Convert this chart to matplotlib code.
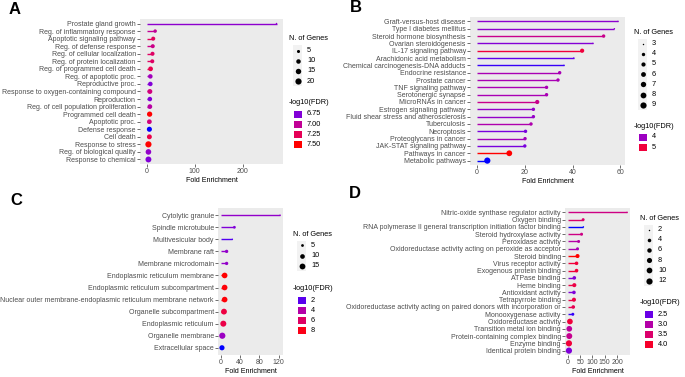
import numpy as np
import matplotlib
matplotlib.use("Agg")
import matplotlib.pyplot as plt
from matplotlib.colors import ListedColormap, Normalize
from matplotlib.lines import Line2D
from matplotlib.patches import Rectangle

W, H = 685, 377

# ---- panel A: biological process
a_terms = ["Prostate gland growth", "Reg. of inflammatory response", "Apoptotic signaling pathway",
           "Reg. of defense response", "Reg. of cellular localization", "Reg. of protein localization",
           "Reg. of programmed cell death", "Reg. of apoptotic proc.", "Reproductive proc.",
           "Response to oxygen-containing compound", "Reproduction", "Reg. of cell population proliferation",
           "Programmed cell death", "Apoptotic proc.", "Defense response", "Cell death",
           "Response to stress", "Reg. of biological quality", "Response to chemical"]
a_fold = [270, 18, 14, 13, 12.5, 12, 8.5, 8, 8, 7, 7, 7, 6.5, 6, 6, 6, 4, 4, 4]
a_genes = [3, 6, 8, 8, 8, 8, 11, 10, 10, 12, 10, 11, 14, 11, 13, 12, 20, 16, 18]
a_fdr = [6.78, 7.0, 7.22, 7.05, 7.2, 7.2, 7.28, 6.85, 6.75, 7.1, 6.75, 6.95, 7.5, 7.1, 6.6, 7.3, 7.5, 6.8, 6.75]
a_xticks = [0, 100, 200]
a_size_breaks = [5, 10, 15, 20]
a_color_breaks = ["6.75", "7.00", "7.25", "7.50"]

# ---- panel B: KEGG
b_terms = ["Graft-versus-host disease", "Type I diabetes mellitus", "Steroid hormone biosynthesis",
           "Ovarian steroidogenesis", "IL-17 signaling pathway", "Arachidonic acid metabolism",
           "Chemical carcinogenesis-DNA adducts", "Endocrine resistance", "Prostate cancer",
           "TNF signaling pathway", "Serotonergic synapse", "MicroRNAs in cancer",
           "Estrogen signaling pathway", "Fluid shear stress and atherosclerosis", "Tuberculosis",
           "Necroptosis", "Proteoglycans in cancer", "JAK-STAT signaling pathway",
           "Pathways in cancer", "Metabolic pathways"]
b_fold = [59, 57.5, 53, 48.5, 44, 40.5, 36.4, 34.6, 33.9, 29.1, 29.1, 25.2, 23.6, 23.6, 22.6, 20.3, 20.1, 20, 13.5, 4.3]
b_genes = [3, 3, 4, 3, 5, 3, 3, 4, 4, 4, 4, 5, 4, 4, 4, 4, 4, 4, 8, 9]
b_fdr = [3.9, 3.9, 4.4, 3.85, 5.0, 3.7, 3.6, 4.1, 4.1, 4.1, 4.1, 4.4, 3.95, 3.95, 4.15, 3.8, 4.05, 3.8, 5.3, 3.55]
b_xticks = [0, 20, 40, 60]
b_size_breaks = [3, 4, 5, 6, 7, 8, 9]
b_color_breaks = ["4", "5"]

# ---- panel C: cellular component
c_terms = ["Cytolytic granule", "Spindle microtubule", "Multivesicular body", "Membrane raft",
           "Membrane microdomain", "Endoplasmic reticulum membrane", "Endoplasmic reticulum subcompartment",
           "Nuclear outer membrane-endoplasmic reticulum membrane network", "Organelle subcompartment",
           "Endoplasmic reticulum", "Organelle membrane", "Extracellular space"]
c_fold = [123, 28, 23.7, 11.8, 11.8, 7.7, 7.7, 7.7, 6.3, 4.9, 2.8, 2.1]
c_genes = [4, 5, 4, 6, 6, 14, 14, 14, 15, 16, 17, 12]
c_fdr = [3.0, 2.6, 1.9, 3.0, 3.0, 8.3, 8.2, 8.2, 7.0, 6.8, 3.2, 1.5]
c_xticks = [0, 40, 80, 120]
c_size_breaks = [5, 10, 15]
c_color_breaks = ["2", "4", "6", "8"]

# ---- panel D: molecular function
d_terms = ["Nitric-oxide synthase regulator activity", "Oxygen binding",
           "RNA polymerase II general transcription initiation factor binding", "Steroid hydroxylase activity",
           "Peroxidase activity", "Oxidoreductase activity acting on peroxide as acceptor", "Steroid binding",
           "Virus receptor activity", "Exogenous protein binding", "ATPase binding", "Heme binding",
           "Antioxidant activity", "Tetrapyrrole binding",
           "Oxidoreductase activity acting on paired donors with incorporation or",
           "Monooxygenase activity", "Oxidoreductase activity", "Transition metal ion binding",
           "Protein-containing complex binding", "Enzyme binding", "Identical protein binding"]
d_fold = [241, 62, 63, 55.5, 43.5, 39, 39, 35, 35, 26, 26, 24.5, 24.5, 21.7, 20, 8, 5.4, 5.4, 4, 4]
d_genes = [2, 3, 2, 3, 3, 3, 5, 4, 4, 4, 5, 4, 5, 4, 3, 10, 10, 11, 12, 12]
d_fdr = [3.3, 3.5, 2.3, 3.3, 3.0, 2.9, 4.2, 3.9, 3.9, 2.6, 3.8, 2.6, 3.8, 3.7, 2.35, 3.9, 3.1, 3.2, 3.9, 2.6]
d_xticks = [0, 50, 100, 150, 200]
d_size_breaks = [2, 4, 6, 8, 10, 12]
d_color_breaks = ["2.5", "3.0", "3.5", "4.0"]

plt.rcParams['font.family'] = ['Liberation Sans', 'DejaVu Sans']

# blue -> red gradient interpolated in CIELAB, like ggplot's scale_colour_gradient
M = np.array([[0.4124, 0.3576, 0.1805], [0.2126, 0.7152, 0.0722], [0.0193, 0.1192, 0.9505]])
WHITE = np.array([0.95047, 1.0, 1.08883])

def to_lab(rgb):
    c = np.asarray(rgb, float)
    c = np.where(c <= 0.04045, c / 12.92, ((c + 0.055) / 1.055) ** 2.4)
    xyz = M @ c / WHITE
    f = np.where(xyz > 0.008856, np.cbrt(xyz), 7.787 * xyz + 16 / 116)
    return np.array([116 * f[1] - 16, 500 * (f[0] - f[1]), 200 * (f[1] - f[2])])

def from_lab(lab):
    fy = (lab[0] + 16) / 116
    f = np.array([fy + lab[1] / 500, fy, fy - lab[2] / 200])
    xyz = np.where(f ** 3 > 0.008856, f ** 3, (f - 16 / 116) / 7.787) * WHITE
    c = np.clip(np.linalg.inv(M) @ xyz, 0, 1)
    c = np.where(c <= 0.0031308, 12.92 * c, 1.055 * c ** (1 / 2.4) - 0.055)
    return np.clip(c, 0, 1)

lab_lo, lab_hi = to_lab([0, 0, 1]), to_lab([1, 0, 0])
CMAP = ListedColormap([from_lab(lab_lo + t * (lab_hi - lab_lo)) for t in np.linspace(0, 1, 256)])


def dot_px(n, nmin, nmax):
    t = (np.asarray(n, float) - nmin) / (nmax - nmin)
    return 0.95 * (1 + 5 * np.sqrt(t)) + 0.5


def px(x, y):
    return x / W, 1 - y / H


fig = plt.figure(figsize=(W / 100, H / 100), dpi=100)


def panel(box, letter, letter_xy, terms, fold, genes, fdr, xticks):
    x0, y0, x1, y1 = box
    ax = fig.add_axes([x0 / W, 1 - y1 / H, (x1 - x0) / W, (y1 - y0) / H])
    ax.set_facecolor('#EBEBEB')
    n = len(terms)
    y = np.arange(n)[::-1]
    norm = Normalize(min(fdr), max(fdr))
    cols = CMAP(norm(fdr))
    gmin, gmax = min(genes), max(genes)
    ax.hlines(y, 0, fold, colors=cols, lw=1.0)
    d = dot_px(genes, gmin, gmax) * 0.72
    ax.scatter(fold, y, s=d ** 2, c=cols, zorder=3, linewidths=0)
    xmax = max(fold)
    ax.set_xlim(-0.05 * xmax, 1.05 * xmax)
    ax.set_ylim(-0.6, n - 0.4)
    ax.set_yticks(y)
    ax.set_yticklabels(terms)
    ax.set_xticks(xticks)
    for s in ax.spines.values():
        s.set_visible(False)
    ax.tick_params(axis='both', length=2, width=0.5, color='#333333', labelcolor='#4D4D4D',
                   labelsize=5.0, pad=1)
    ax.set_xlabel('Fold Enrichment', fontsize=5.1, labelpad=1.5)
    fx, fy = px(*letter_xy)
    fig.text(fx, fy, letter, fontsize=12, fontweight='bold', va='center', ha='left')
    return norm, gmin, gmax


def legends(norm, gmin, gmax, size_breaks, color_breaks, x, y_size, y_color):
    # size legend
    fig.text(*px(x, y_size), 'N. of Genes', fontsize=5.3, va='center')
    ys = y_size + 11.5 + 10.2 * np.arange(len(size_breaks))
    fig.add_artist(Rectangle(px(x + 4, ys[-1] + 5), 9 / W, (ys[-1] - ys[0] + 10) / H,
                             transform=fig.transFigure, facecolor='#F2F2F2', edgecolor='none'))
    for b, yy in zip(size_breaks, ys):
        d = float(dot_px(b, gmin, gmax)) * 0.72
        fig.add_artist(Line2D([px(x + 8.5, yy)[0]], [px(x + 8.5, yy)[1]], marker='o', markersize=d,
                              color='black', markeredgewidth=0, transform=fig.transFigure))
        fig.text(*px(x + 18, yy), str(b), fontsize=5.3, va='center')
    # colour legend
    fig.text(*px(x, y_color), '-log10(FDR)', fontsize=5.3, va='center')
    for i, lab in enumerate(color_breaks):
        yy = y_color + 11 + 10.3 * i
        fig.add_artist(Rectangle(px(x + 5, yy + 3.5), 7.5 / W, 7 / H, transform=fig.transFigure,
                                 facecolor=CMAP(norm(float(lab))), edgecolor='none'))
        fig.text(*px(x + 18, yy), lab, fontsize=5.3, va='center')


r = panel((140, 19, 283, 164), 'A', (9, 9), a_terms, a_fold, a_genes, a_fdr, a_xticks)
legends(*r, a_size_breaks, a_color_breaks, 289, 39, 103)

r = panel((470, 17, 625, 165), 'B', (350, 8), b_terms, b_fold, b_genes, b_fdr, b_xticks)
legends(*r, b_size_breaks, b_color_breaks, 634, 32, 126)

r = panel((218, 208, 283, 355), 'C', (10, 200), c_terms, c_fold, c_genes, c_fdr, c_xticks)
legends(*r, c_size_breaks, c_color_breaks, 293, 234, 289)

r = panel((565, 208, 630, 355), 'D', (349, 194), d_terms, d_fold, d_genes, d_fdr, d_xticks)
legends(*r, d_size_breaks, d_color_breaks, 640, 218, 303)

fig.savefig('out.png', dpi=100, facecolor='white')
